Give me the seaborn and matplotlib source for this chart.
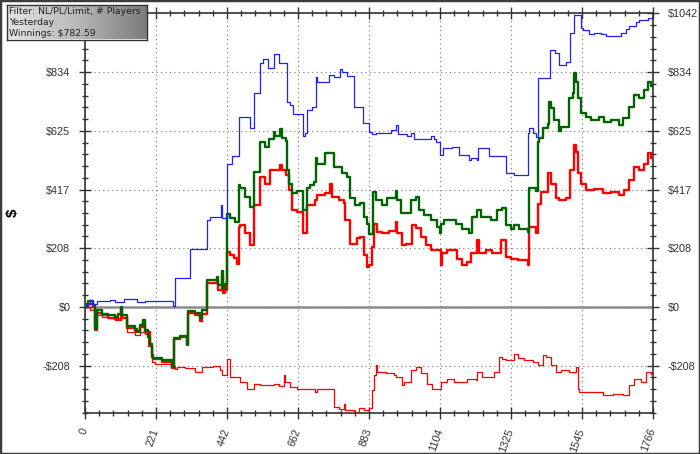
import numpy as np
import pandas as pd
import seaborn as sns
import matplotlib.pyplot as plt
from matplotlib.patches import Rectangle
from matplotlib.ticker import FixedLocator, MultipleLocator

# hands played (x) and cumulative $ won (y)
blue_x = [0, 5, 16, 26, 36, 78, 93, 122, 161, 187, 275, 280, 326, 378, 389, 423, 427, 441,
          442, 457, 478, 514, 526, 545, 553, 568, 589, 602, 628, 638, 646, 678, 685, 690, 706,
          718, 721, 758, 773, 794, 799, 815, 835, 864, 883, 893, 906, 950, 966, 974, 1002,
          1013, 1023, 1075, 1085, 1090, 1103, 1113, 1142, 1163, 1194, 1199, 1220, 1223, 1256,
          1308, 1325, 1335, 1378, 1381, 1392, 1402, 1409, 1447, 1461, 1475, 1495, 1509, 1521,
          1542, 1547, 1568, 1584, 1604, 1620, 1666, 1682, 1692, 1713, 1723, 1750, 1766]
blue_y = [0, 12, 24, 10, 20, 24, 18, 27, 18, 20, 2, 104, 207, 310, 320, 361, 315, 408,
          509, 536, 675, 634, 758, 867, 879, 847, 898, 864, 728, 716, 683, 606, 616, 699, 710,
          817, 799, 823, 815, 843, 835, 820, 710, 651, 622, 612, 618, 627, 645, 613, 606,
          616, 595, 606, 595, 584, 539, 563, 566, 539, 521, 530, 521, 565, 535,
          476, 474, 468, 616, 634, 616, 604, 811, 912, 900, 858, 870, 971, 1036,
          989, 983, 969, 973, 969, 961, 971, 985, 997, 1012, 1018, 1024, 1021]

green_x = [0, 5, 10, 26, 31, 36, 52, 72, 93, 104, 112, 114, 130, 155, 161, 171, 181, 187,
           197, 202, 207, 212, 238, 270, 278, 295, 316, 321, 342, 358, 363, 378, 409, 414,
           425, 430, 435, 442, 452, 467, 478, 483, 498, 514, 525, 545, 561, 571, 587, 592,
           607, 613, 626, 628, 633, 644, 659, 678, 690, 700, 713, 719, 721, 747, 773, 799,
           815, 825, 840, 856, 867, 877, 883, 895, 904, 924, 940, 966, 971, 982, 1013, 1028,
           1038, 1054, 1075, 1095, 1103, 1106, 1116, 1153, 1173, 1194, 1204, 1220, 1230,
           1261, 1282, 1297, 1310, 1325, 1335, 1350, 1376, 1381, 1402, 1409, 1413, 1423,
           1439, 1444, 1449, 1459, 1475, 1480, 1506, 1516, 1521, 1527, 1532, 1542, 1558,
           1573, 1599, 1615, 1635, 1661, 1672, 1692, 1708, 1723, 1739, 1750, 1760, 1766]
green_y = [0, 12, 21, 8, -77, -12, -24, -30, -36, -24, 0, -30, -69, -77, -90, -64, -47, -80,
           -107, -130, -172, -180, -189, -213, -109, -104, -130, -14, -21, -38, -12, 95, 107, 77,
           128, 65, 83, 330, 315, 300, 432, 421, 391, 355, 480, 586, 568, 595, 622, 605,
           630, 600, 590, 486, 438, 403, 410, 343, 421, 432, 445, 527, 509, 545, 497, 474,
           462, 385, 361, 370, 320, 296, 260, 408, 379, 361, 385, 411, 379, 332, 379, 390,
           343, 325, 310, 284, 261, 295, 310, 295, 275, 261, 320, 343, 318,
           310, 343, 350, 290, 278, 290, 275, 266, 421, 410, 586, 598, 634,
           650, 728, 705, 663, 625, 637, 740, 760, 831, 800, 740, 687, 675,
           663, 675, 657, 663, 645, 670, 710, 752, 740, 770, 799, 784, 782]

ev_x = [0, 10, 26, 31, 36, 52, 72, 93, 112, 114, 130, 155, 171, 181, 187, 202, 207, 212,
        238, 270, 278, 295, 316, 321, 342, 358, 363, 378, 409, 414, 425, 430, 435, 442, 452,
        462, 473, 478, 483, 498, 514, 525, 545, 561, 576, 607, 613, 626, 633, 644, 659, 678,
        690, 713, 716, 721, 747, 763, 768, 789, 804, 809, 825, 846, 856, 867, 877, 883, 893,
        898, 909, 924, 945, 966, 971, 987, 997, 1018, 1028, 1044, 1059, 1075, 1106, 1111,
        1126, 1158, 1173, 1189, 1199, 1220, 1225, 1246, 1266, 1292, 1310, 1325, 1345, 1376,
        1381, 1402, 1409, 1418, 1440, 1449, 1464, 1475, 1495, 1509, 1521, 1527, 1532, 1542,
        1558, 1584, 1610, 1635, 1661, 1677, 1692, 1708, 1723, 1739, 1752, 1760, 1766]
ev_y = [0, 12, 0, -80, -20, -30, -38, -44, -8, -38, -75, -84, -72, -55, -88, -138, -178, -186,
        -194, -218, -112, -108, -135, -22, -30, -48, -25, 85, 95, 60, 110, 48, 60, 194, 185,
        173, 154, 284, 290, 261, 219, 361, 462, 438, 486, 503, 486, 470, 415, 343, 338, 261,
        361, 361, 379, 397, 405, 438, 391, 380, 370, 308, 225, 243, 250, 184, 142, 148, 213,
        296, 266, 261, 270, 302, 261, 219, 225, 290, 280, 250, 219, 201, 148, 190,
        201, 172, 148, 160, 190, 237, 190, 201, 190, 237, 178, 172, 166, 148,
        284, 261, 367, 408, 474, 438, 385, 379, 385, 486, 574, 550, 474, 438,
        415, 420, 403, 408, 397, 415, 450, 497, 486, 509, 545, 527, 530]

nsd_x = [0, 16, 31, 36, 52, 78, 93, 112, 130, 155, 171, 187, 197, 207, 218, 270, 280, 285,
         311, 342, 363, 399, 420, 425, 435, 441, 452, 483, 504, 525, 545, 587, 602, 618, 623,
         638, 659, 716, 721, 775, 790, 804, 809, 835, 851, 867, 883, 893, 898, 906, 909, 935,
         961, 966, 987, 992, 1013, 1028, 1044, 1064, 1080, 1106, 1126, 1147, 1189, 1215,
         1220, 1235, 1272, 1287, 1297, 1308, 1325, 1335, 1345, 1366, 1392, 1407, 1423, 1434,
         1449, 1464, 1480, 1506, 1527, 1532, 1537, 1610, 1641, 1672, 1692, 1708, 1729, 1744,
         1760, 1766]
nsd_y = [0, -10, -20, -30, -36, -40, -47, -30, -89, -100, -89, -95, -140, -195, -204, -210,
         -219, -213, -218, -231, -213, -208, -222, -243, -240, -183, -249, -266, -290, -272,
         -278, -275, -282, -243, -265, -284, -290, -302, -290, -355, -362, -345, -367, -378,
         -357, -367, -357, -296, -240, -207, -231, -236, -243, -250, -278, -266, -225, -213,
         -236, -272, -290, -266, -254, -266, -254, -260, -231, -249, -231, -178, -184, -187,
         -187, -166, -180, -189, -196, -207, -172, -178, -207, -231, -225, -231, -213, -290,
         -302, -314, -308, -314, -278, -254, -266, -231, -237, -228]

x_tick_labels = ['0', '221', '442', '662', '883', '1104', '1325', '1545', '1766']
y_tick_labels = ['-$208', '$0', '$208', '$417', '$625', '$834', '$1042']
info_lines = ['Filter: NL/PL/Limit, # Players', 'Yesterday', 'Winnings: $782.59']

n_hands = 1766
y_step = 1042 / 5

sns.set_style('white')
plt.rcParams['font.family'] = ['Liberation Sans', 'DejaVu Sans']

fig = plt.figure(figsize=(7.0, 4.54), dpi=100)
ax = fig.add_axes([85 / 700, 41.3 / 454, 568 / 700, 399.4 / 454])

ax.axhline(0, color='#8a8a8a', lw=1.8, zorder=1)

series = [
    (nsd_x, nsd_y, '#ff0000', 0.9),
    (ev_x, ev_y, '#ff0000', 1.7),
    (green_x, green_y, '#006400', 1.7),
    (blue_x, blue_y, '#2020ff', 0.9),
]
for xs, ys, col, lw in series:
    df = pd.DataFrame({'hand': xs, 'won': ys})
    sns.lineplot(data=df, x='hand', y='won', ax=ax, color=col, linewidth=lw,
                 drawstyle='steps-post', estimator=None, sort=False, zorder=3)

ax.set_xlim(0, n_hands)
ax.set_ylim(-9 * y_step / 5, 1042)

ax.xaxis.set_major_locator(FixedLocator([i * n_hands / 8 for i in range(9)]))
ax.xaxis.set_minor_locator(MultipleLocator(n_hands / 40))
ax.set_xticklabels(x_tick_labels, rotation=70, ha='right', va='center',
                   rotation_mode='anchor')
ax.yaxis.set_major_locator(FixedLocator([k * y_step for k in range(-1, 6)]))
ax.yaxis.set_minor_locator(MultipleLocator(y_step / 5))
ax.set_yticklabels(y_tick_labels)

ax.tick_params(which='major', direction='inout', length=9, width=1, color='#333333',
               labelsize=7.8, labelcolor='#333333', pad=6,
               left=True, right=True, bottom=True, top=True, labelright=True)
ax.tick_params(which='minor', direction='inout', length=5, width=1, color='#333333',
               left=True, right=True, bottom=True, top=True)
ax.tick_params(axis='x', which='major', pad=7)

ax.grid(which='major', linestyle=(0, (1, 3)), color='#777777', linewidth=0.8)
for s in ax.spines.values():
    s.set_visible(True)
    s.set_color('#333333')
    s.set_linewidth(1.2)

ax.set_xlabel('')
ax.set_ylabel('$', fontsize=11, fontweight='bold', color='black')
ax.yaxis.set_label_coords(-0.115, 0.5)

# info box in the top-left corner
box = fig.add_axes([7.3 / 700, 1 - 39.5 / 454, 139.4 / 700, 34.5 / 454])
grad = np.linspace(0, 1, 256).reshape(1, -1)
box.imshow(grad, aspect='auto', cmap=sns.blend_palette(['#e4e4e4', '#b8b8b8', '#7c7c7c'],
                                                       as_cmap=True),
           extent=[0, 1, 0, 1])
box.set_xticks([])
box.set_yticks([])
for s in box.spines.values():
    s.set_color('#333333')
    s.set_linewidth(1)
for txt, yy in zip(info_lines, [0.82, 0.50, 0.18]):
    box.text(0.012, yy, txt, transform=box.transAxes, fontsize=6.7,
             color='#222222', va='center', ha='left', family=['DejaVu Sans'])

fig.patches.append(Rectangle((0, 0), 1, 1, transform=fig.transFigure, fill=False,
                             edgecolor='#3c3c3c', linewidth=2.5))

fig.savefig('out.png', dpi=100)
